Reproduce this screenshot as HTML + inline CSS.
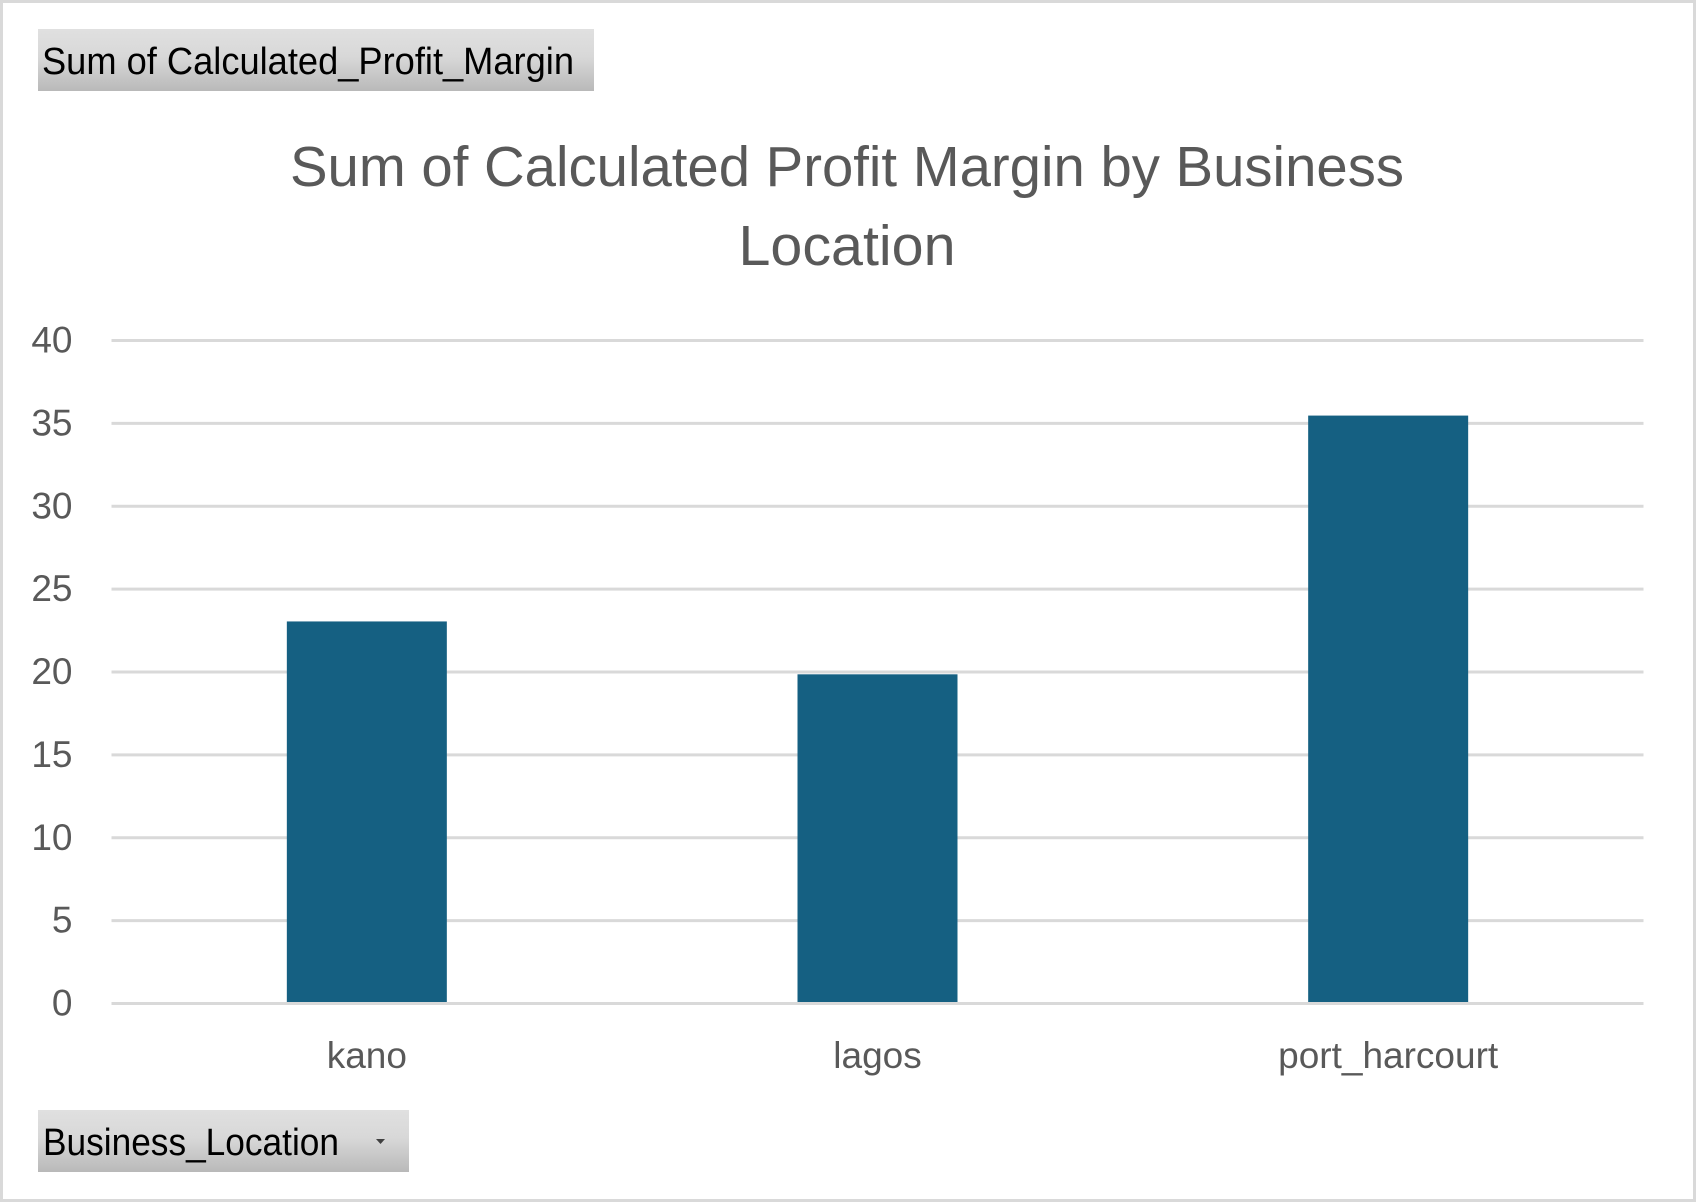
<!DOCTYPE html>
<html lang="en">
<head>
<meta charset="utf-8">
<title>Sum of Calculated Profit Margin by Business Location</title>
<style>
html,body{margin:0;padding:0;background:#fff;width:1696px;height:1202px;overflow:hidden}
svg{display:block}
text{font-family:"Liberation Sans",sans-serif}
</style>
</head>
<body>
<svg id="chart" xmlns="http://www.w3.org/2000/svg" width="1696" height="1202" viewBox="0 0 1696 1202">
  <defs>
    <linearGradient id="pill" x1="0" y1="0" x2="0" y2="1">
      <stop offset="0" stop-color="#e0e0e0"/>
      <stop offset="0.45" stop-color="#d8d8d8"/>
      <stop offset="1" stop-color="#b9b9b9"/>
    </linearGradient>
  </defs>
  <rect x="1.5" y="1.5" width="1693" height="1199" fill="#fff" stroke="#d9d9d9" stroke-width="3"/>
  <g>
    <rect x="38" y="29" width="556" height="62" fill="url(#pill)"/>
    <text x="42" y="74" font-size="38" fill="#000" textLength="532" lengthAdjust="spacingAndGlyphs">Sum of Calculated_Profit_Margin</text>
  </g>
  <g fill="#595959" font-size="57" text-anchor="middle">
    <text x="847" y="186" textLength="1114" lengthAdjust="spacingAndGlyphs">Sum of Calculated Profit Margin by Business</text>
    <text x="847" y="265" textLength="217" lengthAdjust="spacingAndGlyphs">Location</text>
  </g>
  <g id="grid"></g>
  <g id="yaxis"></g>
  <g id="bars"></g>
  <g id="xaxis"></g>
  <g>
    <rect x="38" y="1110" width="371" height="62" fill="url(#pill)"/>
    <text x="43" y="1155" font-size="38" fill="#000" textLength="296" lengthAdjust="spacingAndGlyphs">Business_Location</text>
    <path d="M376 1139h9l-4.500 5z" fill="#404040"/>
  </g>
</svg>
<script>
const categories = ['kano', 'lagos', 'port_harcourt'];
const profitMargin = [23.05, 19.86, 35.47];
const yTicks = [0, 5, 10, 15, 20, 25, 30, 35, 40];

const plotLeft = 111.5, plotRight = 1643.5, plotTop = 340.5, plotBottom = 1003.5;
const yMax = 40, barWidth = 160;
const NS = 'http://www.w3.org/2000/svg';
const yScale = v => plotBottom - (v / yMax) * (plotBottom - plotTop);
const bandWidth = (plotRight - plotLeft) / categories.length;
const xCenter = i => plotLeft + bandWidth * (i + 0.5);

function make(tag, attrs, parent, text) {
  const el = document.createElementNS(NS, tag);
  for (const k in attrs) el.setAttribute(k, attrs[k]);
  if (text !== undefined) el.textContent = text;
  parent.appendChild(el);
  return el;
}

const grid = document.getElementById('grid');
const yaxis = document.getElementById('yaxis');
yTicks.forEach(t => {
  const line = make('line', {x1: plotLeft, x2: plotRight, y1: yScale(t), y2: yScale(t), stroke: '#d9d9d9', 'stroke-width': 3}, grid);
  
  
  const label = make('text', {x: 72.5, y: yScale(t) + 12, 'font-size': 37, fill: '#595959', 'text-anchor': 'end'}, yaxis, String(t));
  
  
});

const bars = document.getElementById('bars');
const xaxis = document.getElementById('xaxis');
categories.forEach((c, i) => {
  const bar = make('rect', {x: xCenter(i) - barWidth / 2, y: yScale(profitMargin[i]), width: barWidth, height: plotBottom - 1.5 - yScale(profitMargin[i]), fill: '#156082'}, bars);
  
  
  const label = make('text', {x: xCenter(i), y: 1068, 'font-size': 37, fill: '#595959', 'text-anchor': 'middle'}, xaxis, c);
  
  
});
</script>
</body>
</html>
